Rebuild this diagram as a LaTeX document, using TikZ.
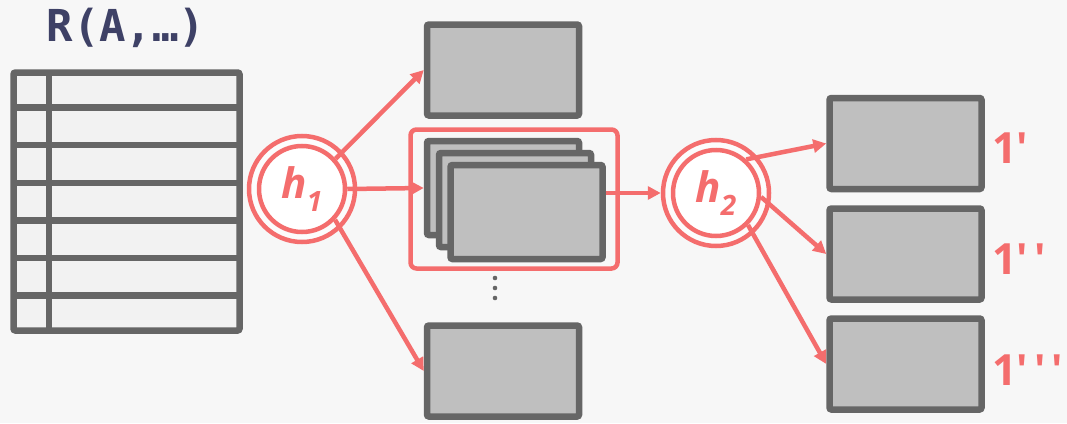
\documentclass[tikz,border=0pt]{standalone}
\usepackage{fontspec}
\setmainfont{Open Sans}
\newfontfamily\titlefont{DejaVu Sans Mono}
\newfontfamily\labelfont{Open Sans}[Ligatures=ResetAll]
\usetikzlibrary{arrows.meta}
\definecolor{bgc}{HTML}{F7F7F7}
\definecolor{edge}{HTML}{666666}
\definecolor{boxfill}{HTML}{BFBFBF}
\definecolor{tabfill}{HTML}{F2F2F2}
\definecolor{salmon}{HTML}{F46D6D}
\definecolor{slate}{HTML}{3E4166}
\tikzset{
  page/.style={x=1pt,y=-1pt},
  block/.style={draw=edge,fill=boxfill,line width=6.5pt,rounded corners=2pt,
    minimum width=152pt,minimum height=91pt,inner sep=0pt},
  hashfn/.style={circle,draw=salmon,line width=4.5pt,fill=white,
    minimum size=86pt,inner sep=0pt,text=salmon,
    font=\fontsize{42}{42}\selectfont\bfseries\itshape},
  hashring/.style={circle,draw=salmon,line width=4.5pt,fill=bgc!40!white,
    minimum size=106pt,inner sep=0pt},
  flow/.style={draw=salmon,line width=4.5pt,
    -{Triangle[length=13pt,width=13pt]}},
  part/.style={text=salmon,font=\labelfont\fontsize{43}{43}\selectfont\bfseries,
    anchor=base west,inner sep=0pt},
}
% straight prime marks and subscripted hash name
\newcommand{\pr}{\char"27}
\newcommand{\prr}{\kern0.14em\char"27}
\newcommand{\hsub}[1]{h\raisebox{-0.32em}{\fontsize{28}{28}\selectfont #1}}
\begin{document}
\begin{tikzpicture}[page]
  % canvas
  \fill[bgc] (0,0) rectangle (1067,423);
  \useasboundingbox (0,0) rectangle (1067,423);

  % relation R as a table of seven rows
  \node[text=slate,font=\titlefont\bfseries\fontsize{44}{44}\selectfont,
        inner sep=0pt] (title) at (126,28) {R(A,…)};
  \fill[tabfill] (13.5,72.5) rectangle (239.5,330.5);
  \foreach \y in {107.5,145,183,220.5,258,295.5}
    \draw[edge,line width=6.5pt] (13.5,\y) -- (239.5,\y);
  \draw[edge,line width=6.5pt] (49,72.5) -- (49,330.5);
  \draw[edge,line width=6.5pt,rounded corners=2pt] (13.5,72.5) rectangle (239.5,330.5);

  % first hash function
  \node[hashring] (h1ring) at (302,189) {};
  \node[hashfn] (h1) at (302,189) {\hsub{1}};

  % partitions produced by h1
  \node[block] (top) at (503,70) {};
  \node[block] (bottom) at (503,371) {};
  \node[draw=salmon,line width=4.5pt,rounded corners=6pt,
        minimum width=207pt,minimum height=139pt] (frame) at (514,199) {};
  \node[block,minimum height=94pt] (back) at (503,188) {};
  \node[block,minimum height=94pt] (mid) at (515,200) {};
  \node[block,minimum height=94pt] (front) at (526.5,212) {};
  \foreach \y in {278,288,298}
    \fill[edge] (495,\y) circle (2.3pt);

  % second hash function
  \node[hashring] (h2ring) at (716,193) {};
  \node[hashfn] (h2) at (716,193) {\hsub{2}};

  % sub-partitions produced by h2
  \node[block] (r1) at (905.5,143.5) {};
  \node[block] (r2) at (905.5,254) {};
  \node[block] (r3) at (905.5,364) {};
  \node[part] (l1) at (992,163) {1\pr};
  \node[part] (l2) at (992,274) {1\pr\prr};
  \node[part] (l3) at (992,385) {1\pr\prr\prr};

  % connectors
  \draw[flow] (h1.42) -- (top.west);
  \draw[flow] (h1.east) -- (back.west);
  \draw[flow] (h1.-43) -- (bottom.west);
  \draw[flow] (front.east |- h2ring.west) -- (h2ring.west);
  \draw[flow] (h2.48) -- (r1.west);
  \draw[flow] (h2.-5) -- (r2.west);
  \draw[flow] (h2.-45) -- (r3.west);
\end{tikzpicture}
\end{document}
